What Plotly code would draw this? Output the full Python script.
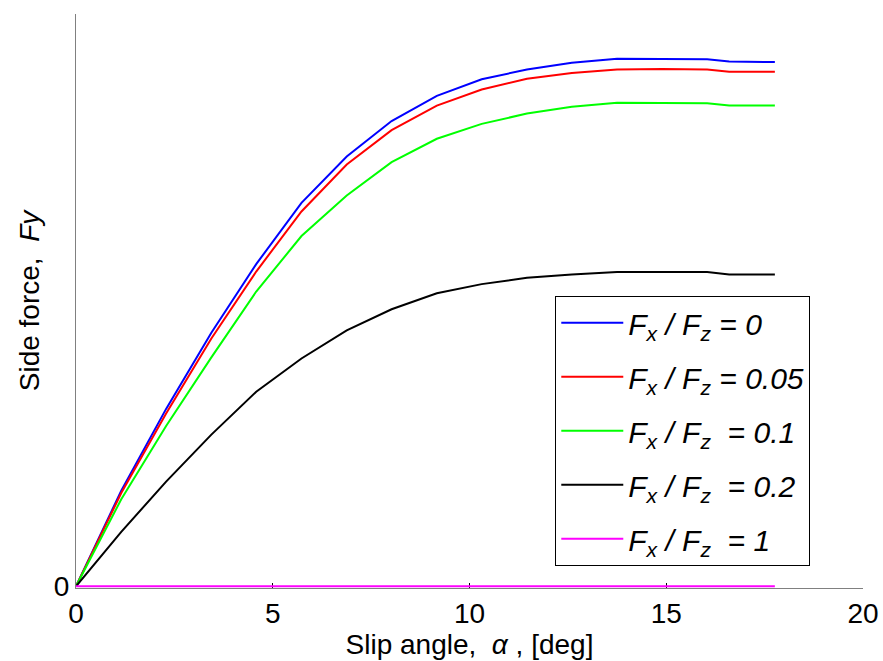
import plotly.graph_objects as go

# Slip angle samples [deg]
alpha_deg = [0, 1.15, 2.29, 3.44, 4.58, 5.73, 6.88, 8.02, 9.17, 10.31,
             11.46, 12.6, 13.75, 14.9, 16.04, 16.6, 17.76]

# Normalised side force for each Fx/Fz ratio
fy_0 = [0, 0.167, 0.310, 0.443, 0.563, 0.670, 0.751, 0.813, 0.857, 0.886,
        0.903, 0.915, 0.922, 0.922, 0.921, 0.917, 0.916]
fy_005 = [0, 0.163, 0.302, 0.433, 0.550, 0.655, 0.737, 0.797, 0.840, 0.868,
          0.887, 0.897, 0.903, 0.904, 0.903, 0.899, 0.899]
fy_01 = [0, 0.152, 0.280, 0.400, 0.515, 0.612, 0.683, 0.741, 0.782, 0.808,
         0.826, 0.838, 0.845, 0.845, 0.844, 0.840, 0.840]
fy_02 = [0, 0.095, 0.183, 0.265, 0.340, 0.398, 0.447, 0.484, 0.512, 0.528,
         0.539, 0.545, 0.549, 0.549, 0.549, 0.545, 0.545]
fy_1 = [0] * len(alpha_deg)

S = "&nbsp;"
series = [
    ("F<sub>x</sub>" + S + "/ F<sub>z</sub> = 0", fy_0, "#0000ff"),
    ("F<sub>x</sub>" + S + "/ F<sub>z</sub> = 0.05", fy_005, "#ff0000"),
    ("F<sub>x</sub>" + S + "/ F<sub>z</sub> " + S + "= 0.1", fy_01, "#00ff00"),
    ("F<sub>x</sub>" + S + "/ F<sub>z</sub> " + S + "= 0.2", fy_02, "#000000"),
    ("F<sub>x</sub>" + S + "/ F<sub>z</sub> " + S + "= 1", fy_1, "#ff00ff"),
]

x_ticks = [0, 5, 10, 15, 20]
y_tickvals = [0, 1]
y_ticktext = ["0", ""]

FONT = "Liberation Sans, Arial, sans-serif"

fig = go.Figure()
for i, (name, vals, col) in enumerate(series):
    fig.add_trace(go.Scatter(
        x=alpha_deg, y=vals, mode="lines", name="<i>" + name + "</i>",
        line=dict(color=col, width=2), legendgroup="g%d" % i,
        cliponaxis=False,
    ))

fig.update_layout(
    width=883, height=661,
    margin=dict(l=76, r=20, t=14, b=73),
    plot_bgcolor="white", paper_bgcolor="white",
    font=dict(family=FONT, size=28, color="black"),
    showlegend=True,
    legend=dict(
        x=0.609, y=0.509, xanchor="left", yanchor="top",
        bgcolor="white", bordercolor="black", borderwidth=1,
        font=dict(family=FONT, size=30, color="black"),
        tracegroupgap=12, itemwidth=62,
    ),
    xaxis=dict(
        range=[0, 20], tickvals=x_ticks, ticks="inside", ticklen=5,
        tickcolor="black", showline=True, linecolor="#808080", linewidth=1,
        showgrid=False, zeroline=False, layer="below traces", automargin=False,
        tickfont=dict(size=28),
        title=dict(text="Slip angle, &nbsp;<i>α</i> , [deg]", font=dict(size=28), standoff=2),
    ),
    yaxis=dict(
        range=[-0.003, 1], tickvals=y_tickvals, ticktext=y_ticktext, ticks="inside",
        ticklen=5, tickcolor="black", showline=True, linecolor="#808080",
        linewidth=1, showgrid=False, zeroline=False, layer="below traces",
        automargin=False,
        tickfont=dict(size=28),
        title=dict(text="Side force, &nbsp;<i>Fy</i>", font=dict(size=28), standoff=6),
    ),
)

fig.write_html("out.html")
